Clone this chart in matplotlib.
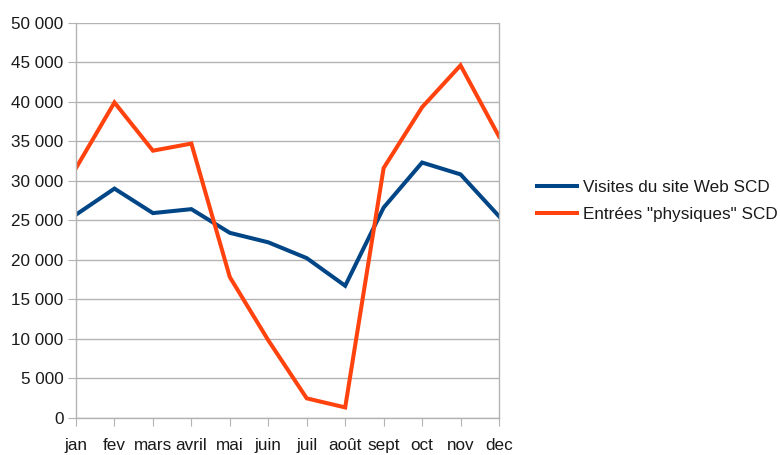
import matplotlib
matplotlib.use("Agg")
import matplotlib.pyplot as plt
from matplotlib.ticker import FuncFormatter, MultipleLocator

months = ["jan", "fev", "mars", "avril", "mai", "juin", "juil", "août", "sept", "oct", "nov", "dec"]
web = [25700, 29000, 25900, 26400, 23400, 22200, 20200, 16700, 26600, 32300, 30800, 25500]
physique = [31600, 39900, 33800, 34700, 17800, 9800, 2450, 1300, 31600, 39300, 44600, 35600]
labels = ["Visites du site Web SCD", 'Entrées "physiques" SCD']

plt.rcParams['font.family'] = ['Liberation Sans', 'DejaVu Sans']

fig = plt.figure(figsize=(7.8, 4.55), dpi=100)
ax = fig.add_axes([76/780, 1 - 417.7/455, (499-76)/780, (417.7-22.7)/455])

x = list(range(len(months)))
ax.plot(x, web, color="#004586", lw=2.9, label=labels[0], solid_joinstyle="miter")
ax.plot(x, physique, color="#ff420e", lw=2.9, label=labels[1], solid_joinstyle="miter")

ax.set_xlim(0, len(months) - 1)
ax.set_ylim(0, 50000)
ax.yaxis.set_major_locator(MultipleLocator(5000))
ax.yaxis.set_major_formatter(FuncFormatter(lambda v, p: f"{int(v):,}".replace(",", " ")))
ax.set_xticks(x)
ax.set_xticklabels(months)

ax.grid(axis="y", color="#b3b3b3", lw=1)
ax.set_axisbelow(True)
ax.spines["top"].set_visible(False)
for s in ["left", "right", "bottom"]:
    ax.spines[s].set_color("#b3b3b3")
    ax.spines[s].set_linewidth(1)
ax.tick_params(axis="both", which="both", direction="out", length=6, color="#b3b3b3",
               labelsize=12.3, labelcolor="#1a1a1a")
ax.tick_params(axis="x", pad=8.5)
ax.tick_params(axis="y", pad=3)

fig.legend(loc="center left", bbox_to_anchor=(0.6686, 0.5587), frameon=False,
           fontsize=12.3, handlelength=2.34, handletextpad=0.35, labelspacing=0.7,
           labelcolor="#1a1a1a")

fig.savefig("out.png", dpi=100)
